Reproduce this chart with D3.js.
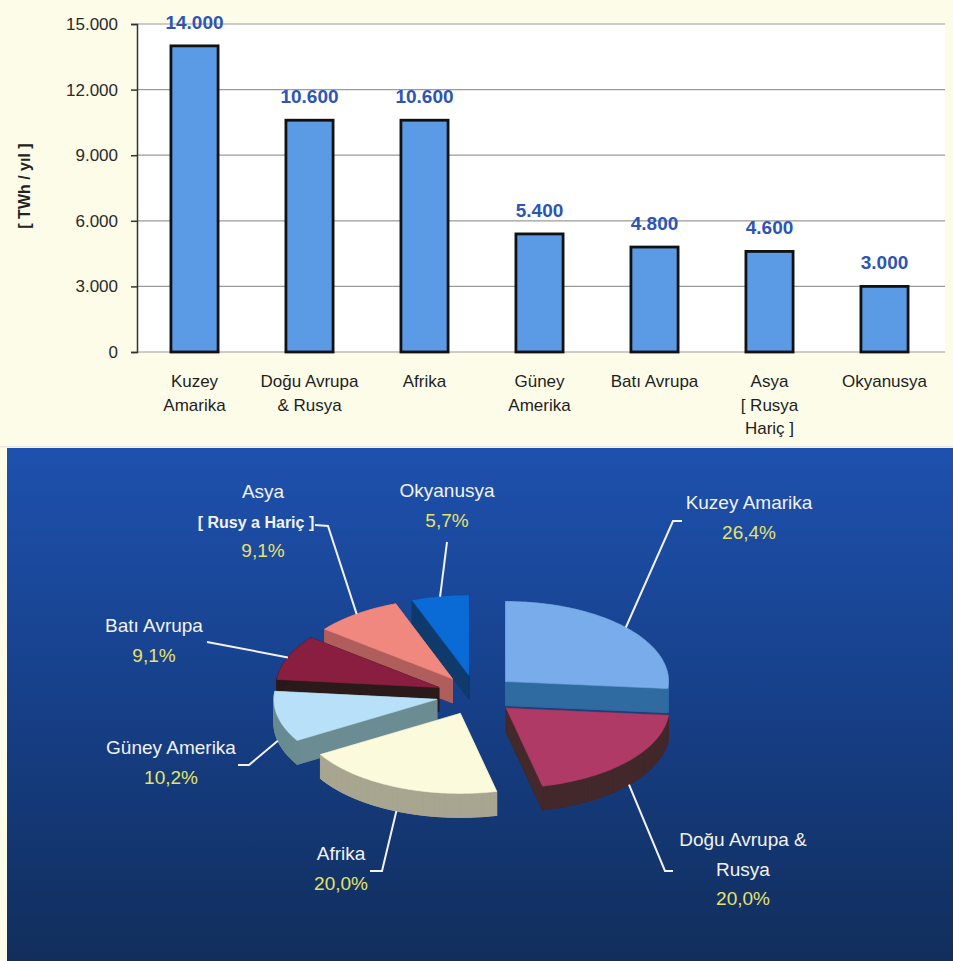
<!DOCTYPE html>
<html><head><meta charset="utf-8">
<script src="https://cdn.jsdelivr.net/npm/d3@7"></script>
<style>html,body{margin:0;padding:0;background:#fdfce8;} svg{display:block;font-family:"Liberation Sans",Arial,sans-serif;}</style>
</head><body><svg id="c" width="953" height="961"></svg>
<script>
// ---------- data ----------
const categories = ["Kuzey Amarika","Doğu Avrupa & Rusya","Afrika","Güney Amerika","Batı Avrupa","Asya [ Rusya Hariç ]","Okyanusya"];
const barLabelLines = [["Kuzey","Amarika"],["Doğu Avrupa","& Rusya"],["Afrika"],["Güney","Amerika"],["Batı Avrupa"],["Asya","[ Rusya","Hariç ]"],["Okyanusya"]];
const values = [14000,10600,10600,5400,4800,4600,3000];
const valueLabels = ["14.000","10.600","10.600","5.400","4.800","4.600","3.000"];
const yTicks = [0,3000,6000,9000,12000,15000];
const yTickLabels = ["0","3.000","6.000","9.000","12.000","15.000"];
const yTitle = "[ TWh / yıl ]";
const pieLabelLines = [["Kuzey Amarika"],["Doğu Avrupa &","Rusya"],["Afrika"],["Güney Amerika"],["Batı Avrupa"],["Asya","[ Rusy a Hariç ]"],["Okyanusya"]];
const piePctLabels = ["26,4%","20,0%","20,0%","10,2%","9,1%","9,1%","5,7%"];

// ---------- styles / layout ----------
const topColors  = ["#78aceb","#b03a66","#fcfadc","#b8e0f8","#8a1e40","#f08880","#0a6ad6"];
const sideColors = ["#2f6aa0","#43282c","#a8a690","#6a8c92","#2a1a1a","#b05e5c","#0f3a6c"];
const labelLayout = [
  {x:749, y:509, lead:[[682,521],[673,521]]},
  {x:743, y:846, lead:[[673,871],[665,871]]},
  {x:341, y:860, lead:[[370,871],[382,871]]},
  {x:171, y:754, lead:[[238,765],[249,765]]},
  {x:154, y:632, lead:[[207,642]]},
  {x:263, y:498, lead:[[315,525],[328,526]]},
  {x:447, y:497, lead:[[447,542]]}
];

const svg = d3.select("#c");
const defs = svg.append("defs");
const g1 = defs.append("linearGradient").attr("id","bg").attr("x1",0).attr("y1",0).attr("x2",0).attr("y2",1);
g1.append("stop").attr("offset","0%").attr("stop-color","#1e51ae");
g1.append("stop").attr("offset","45%").attr("stop-color","#17418c");
g1.append("stop").attr("offset","100%").attr("stop-color","#112e5c");

// ---------- top panel ----------
svg.append("rect").attr("x",0).attr("y",0).attr("width",953).attr("height",446).attr("fill","#fdfce8");
const plotL = 137, plotR = 945, plotT = 24, plotB = 352;
svg.append("rect").attr("x",plotL).attr("y",plotT).attr("width",plotR-plotL).attr("height",plotB-plotT).attr("fill","#ffffff");

const x = d3.scaleBand().domain(categories).range([plotL, 942]).paddingInner(0.59).paddingOuter(0.295);
const y = d3.scaleLinear().domain([0,15000]).range([plotB, plotT]);

svg.append("g").selectAll("line").data(yTicks).join("line")
  .attr("x1",plotL).attr("x2",plotR).attr("y1",d=>y(d)).attr("y2",d=>y(d))
  .attr("stroke","#9a9a9a").attr("stroke-width",1.2);

const ax = svg.append("g").attr("transform",`translate(${plotL},0)`)
  .call(d3.axisLeft(y).tickValues(yTicks).tickFormat((d,i)=>yTickLabels[i]).tickSize(6).tickPadding(13));
ax.select(".domain").attr("stroke","#333").attr("stroke-width",1.5);
ax.selectAll(".tick line").attr("stroke","#333").attr("stroke-width",1.5);
ax.selectAll(".tick text").attr("font-size",17).attr("fill","#2a2a2a").attr("font-family","Liberation Sans, Arial, sans-serif");

svg.append("g").selectAll("rect").data(values).join("rect")
  .attr("x",(d,i)=>x(categories[i])).attr("width",x.bandwidth())
  .attr("y",d=>y(d)).attr("height",d=>plotB-y(d))
  .attr("fill","#5b9be6").attr("stroke","#111").attr("stroke-width",2.8);

svg.append("g").selectAll("text").data(values).join("text")
  .attr("x",(d,i)=>x(categories[i])+x.bandwidth()/2).attr("y",d=>y(d)-17)
  .attr("text-anchor","middle").attr("font-size",19).attr("font-weight","bold").attr("fill","#2c55b4")
  .text((d,i)=>valueLabels[i]);

const xl = svg.append("g").selectAll("text").data(barLabelLines).join("text")
  .attr("text-anchor","middle").attr("font-size",17).attr("fill","#1e1e1e");
xl.each(function(lines,i){
  const t = d3.select(this);
  lines.forEach((ln,k)=>t.append("tspan").attr("x",x(categories[i])+x.bandwidth()/2).attr("y",387+k*23.5).text(ln));
});

svg.append("text").attr("transform","translate(30,186) rotate(-90)").attr("text-anchor","middle")
  .attr("font-size",16).attr("font-weight","bold").attr("fill","#222").text(yTitle);

// ---------- bottom panel ----------
svg.append("rect").attr("x",0).attr("y",446).attr("width",953).attr("height",1.5).attr("fill","#e8e8e0");
svg.append("rect").attr("x",7).attr("y",448).attr("width",946).attr("height",513).attr("fill","url(#bg)");

const P = {cx:476, cy:695, rx:163, ry:80, ex:40, ey:20, h:24};
const arcs = d3.pie().sort(null).value(d=>d).startAngle(0).endAngle(2*Math.PI)(values);
function pt(a0, b0, a){ return [a0 + P.rx*Math.sin(a), b0 - P.ry*Math.cos(a)]; }
const slices = arcs.map((p,i)=>{
  const m = (p.startAngle+p.endAngle)/2;
  const axp = P.cx + P.ex*Math.sin(m), ayp = P.cy - P.ey*Math.cos(m);
  const n = Math.max(4, Math.ceil((p.endAngle-p.startAngle)/0.02));
  const pts = [[axp,ayp]];
  for (let k=0;k<=n;k++) pts.push(pt(axp,ayp,p.startAngle + k*(p.endAngle-p.startAngle)/n));
  return {i, m, axp, ayp, pts};
});
const line = d3.line();
const pieG = svg.append("g");
slices.slice().sort((a,b)=>a.ayp-b.ayp).forEach(s=>{
  const g = pieG.append("g");
  const down = s.pts.map(p=>[p[0],p[1]+P.h]);
  g.append("path").attr("d",line(down)+"Z").attr("fill",sideColors[s.i]).attr("stroke",sideColors[s.i]).attr("stroke-width",0.8);
  for (let k=0;k<s.pts.length;k++){
    const a = s.pts[k], b = s.pts[(k+1)%s.pts.length];
    g.append("path").attr("d",line([a,b,[b[0],b[1]+P.h],[a[0],a[1]+P.h]])+"Z")
      .attr("fill",sideColors[s.i]).attr("stroke",sideColors[s.i]).attr("stroke-width",0.8);
  }
  g.append("path").attr("d",line(s.pts)+"Z").attr("fill",topColors[s.i]).attr("stroke",topColors[s.i]).attr("stroke-width",0.6);
});

// leaders + labels
const lab = svg.append("g");
slices.forEach(s=>{
  const L = labelLayout[s.i];
  let e = pt(s.axp, s.ayp, s.m);
  if (Math.cos(s.m) < 0) e = [e[0], e[1]+P.h];
  lab.append("path").attr("d",line(L.lead.concat([e]))).attr("fill","none").attr("stroke","#f2f2f2").attr("stroke-width",2);
  const lines = pieLabelLines[s.i];
  lines.forEach((ln,k)=>{
    const small = ln.startsWith("[");
    lab.append("text").attr("x",L.x + (small?-7:0)).attr("y",L.y + k*29.5).attr("text-anchor","middle")
      .attr("font-size",small?16:19).attr("font-weight",small?"bold":"normal").attr("fill","#f2f2f2").text(ln);
  });
  lab.append("text").attr("x",L.x).attr("y",L.y + lines.length*29.5).attr("text-anchor","middle")
    .attr("font-size",19).attr("fill","#e6e26a").text(piePctLabels[s.i]);
});
</script></body></html>
